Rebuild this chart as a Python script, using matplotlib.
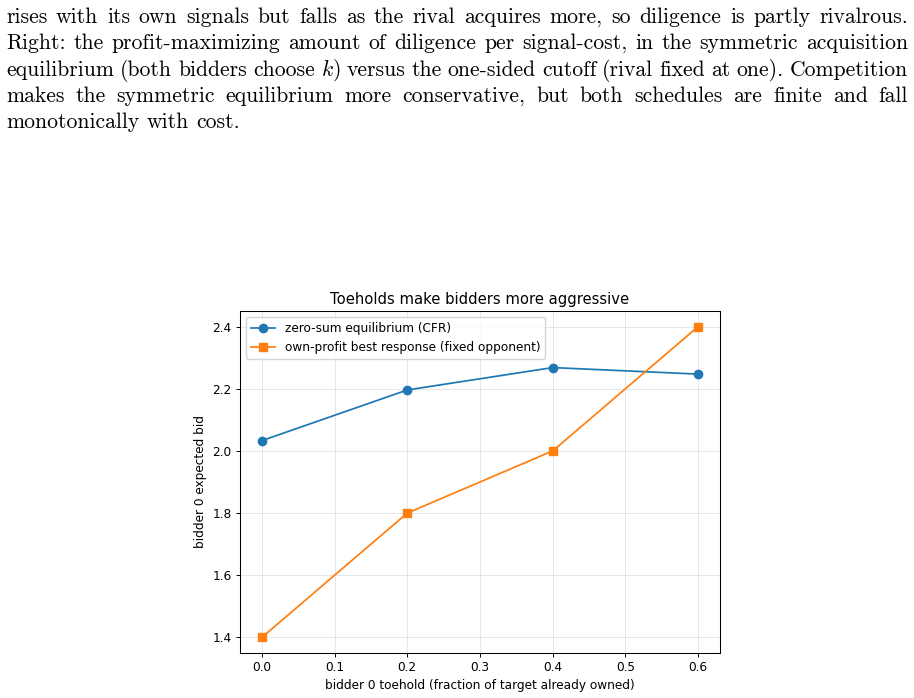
import matplotlib
matplotlib.use("Agg")
import matplotlib.pyplot as plt

W, H = 914, 698

# data
toehold = [0.0, 0.2, 0.4, 0.6]
cfr_bid = [2.033, 2.196, 2.268, 2.247]
br_bid = [1.4, 1.8, 2.0, 2.4]

caption_lines = [
    "rises with its own signals but falls as the rival acquires more, so diligence is partly rivalrous.",
    "Right: the profit-maximizing amount of diligence per signal-cost, in the symmetric acquisition",
    "equilibrium (both bidders choose $k$) versus the one-sided cutoff (rival fixed at one). Competition",
    "makes the symmetric equilibrium more conservative, but both schedules are finite and fall",
    "monotonically with cost.",
]
caption_baselines = [23, 49, 76, 102, 128]

plt.rcParams["mathtext.fontset"] = "cm"

fig = plt.figure(figsize=(W / 100, H / 100), dpi=100)


def px_x(x):
    return x / W


def px_y(y):
    return 1 - y / H


# caption: justified lines in a Computer Modern face
renderer = fig.canvas.get_renderer()
x0, x1 = 6, 908
for i, (line, yb) in enumerate(zip(caption_lines, caption_baselines)):
    words = line.split(" ")
    texts = [fig.text(0, px_y(yb), w, family="cmr10", fontsize=15.6, va="baseline")
             for w in words]
    widths = [t.get_window_extent(renderer).width for t in texts]
    last = i == len(caption_lines) - 1
    if last:
        sp = fig.text(0, 0, "a b", family="cmr10", fontsize=15.6)
        a = fig.text(0, 0, "ab", family="cmr10", fontsize=15.6)
        gap = sp.get_window_extent(renderer).width - a.get_window_extent(renderer).width
        sp.remove()
        a.remove()
    else:
        gap = (x1 - x0 - sum(widths)) / (len(words) - 1)
    x = x0
    for t, w in zip(texts, widths):
        t.set_x(px_x(x))
        x += w + gap

# chart
fs = 8.7
ax = fig.add_axes([px_x(240), px_y(653), px_x(480), 342 / H])
ax.plot(toehold, cfr_bid, marker="o", ms=6, lw=1.25, color="#1f77b4",
        label="zero-sum equilibrium (CFR)")
ax.plot(toehold, br_bid, marker="s", ms=5.6, lw=1.25, color="#ff7f0e",
        label="own-profit best response (fixed opponent)")
ax.set_xticks([0.0, 0.1, 0.2, 0.3, 0.4, 0.5, 0.6])
ax.grid(True, alpha=0.3, lw=0.7)
ax.tick_params(labelsize=fs, length=3, width=0.7, pad=3)
for s in ax.spines.values():
    s.set_linewidth(0.75)
ax.set_xlabel("bidder 0 toehold (fraction of target already owned)", fontsize=fs, labelpad=3)
ax.set_ylabel("bidder 0 expected bid", fontsize=fs, labelpad=4)
ax.set_title("Toeholds make bidders more aggressive", fontsize=10.6, pad=5)
ax.legend(loc="upper left", fontsize=fs)

fig.savefig("out.png", dpi=100)
